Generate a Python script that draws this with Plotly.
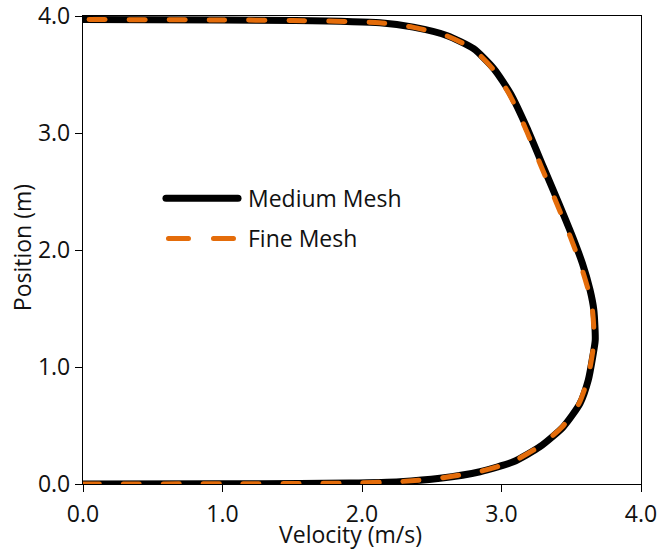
import plotly.graph_objects as go

# Velocity profile across the channel, ordered from the bottom wall to the top wall
medium_velocity = [0.0, 1.0, 1.556, 1.914, 2.272, 2.559, 2.846, 3.085, 3.276, 3.443,
                   3.563, 3.622, 3.654, 3.672, 3.662, 3.635, 3.580, 3.510, 3.410, 3.300,
                   3.180, 3.065, 2.945, 2.800, 2.607, 2.368, 2.129, 1.5, 1.0, 0.0]
medium_position = [0.0, 0.002, 0.004, 0.008, 0.020, 0.049, 0.105, 0.190, 0.319, 0.489,
                   0.689, 0.888, 1.087, 1.230, 1.486, 1.657, 1.885, 2.110, 2.400, 2.710,
                   3.050, 3.336, 3.550, 3.721, 3.834, 3.905, 3.943, 3.962, 3.966, 3.970]

fine_velocity = [0.0, 1.0, 1.550, 1.905, 2.262, 2.550, 2.838, 3.078, 3.268, 3.436,
                 3.556, 3.616, 3.648, 3.664, 3.652, 3.622, 3.564, 3.494, 3.395, 3.286,
                 3.168, 3.054, 2.936, 2.792, 2.600, 2.362, 2.124, 1.5, 1.0, 0.0]
fine_position = medium_position

series_names = ["Medium Mesh", "Fine Mesh"]
x_ticks = [0.0, 1.0, 2.0, 3.0, 4.0]
y_ticks = [0.0, 1.0, 2.0, 3.0, 4.0]
x_title = "Velocity (m/s)"
y_title = "Position (m)"

BLACK = "#000000"
ORANGE = "#E46C0A"
TEXT = "#111111"
FONT = "Open Sans"
SIZE = 23

fig = go.Figure()
fig.add_trace(go.Scatter(x=medium_velocity, y=medium_position, mode="lines",
                         name=series_names[0],
                         line=dict(color=BLACK, width=7, shape="spline", smoothing=0.6),
                         showlegend=False))
fig.add_trace(go.Scatter(x=fine_velocity, y=fine_position, mode="lines",
                         name=series_names[1],
                         line=dict(color=ORANGE, width=5, shape="spline", smoothing=0.6,
                                   dash="16px,24px"),
                         showlegend=False))

axis_common = dict(range=[0, 4], showline=True, linecolor=BLACK, linewidth=1.3, mirror=True,
                   ticks="outside", ticklen=7, tickwidth=1.3, tickcolor=BLACK,
                   showgrid=False, zeroline=False, tickformat=".1f", automargin=False,
                   ticklabeloverflow="allow",
                   tickfont=dict(family=FONT, size=SIZE, color=TEXT))

fig.update_xaxes(tickvals=x_ticks, ticklabelstandoff=2, **axis_common)
fig.update_yaxes(tickvals=y_ticks, ticklabelstandoff=0, **axis_common)

# Axis titles
fig.add_annotation(xref="paper", yref="paper", x=0.4785, y=-0.1078, text=x_title, showarrow=False,
                   xanchor="center", yanchor="middle",
                   font=dict(family=FONT, size=SIZE, color=TEXT))
fig.add_annotation(xref="paper", yref="paper", x=-0.1102, y=0.505, text=y_title, showarrow=False,
                   textangle=-90, xanchor="center", yanchor="middle",
                   font=dict(family=FONT, size=SIZE, color=TEXT))

# Legend drawn inside the plot area
legend_x0, legend_x1, text_x = 0.1487, 0.2778, 0.2916
legend_rows = [0.6107, 0.5247]
fig.add_shape(type="line", xref="paper", yref="paper", x0=legend_x0, x1=legend_x1,
              y0=legend_rows[0], y1=legend_rows[0], line=dict(color=BLACK, width=7))
fig.add_shape(type="line", xref="paper", yref="paper", x0=legend_x0 + 0.0045, x1=legend_x1 - 0.0045,
              y0=legend_rows[1], y1=legend_rows[1], line=dict(color=ORANGE, width=5, dash="20px,25px"))
for name, row in zip(series_names, legend_rows):
    fig.add_annotation(xref="paper", yref="paper", x=text_x, y=row, text=name, showarrow=False,
                       xanchor="left", yanchor="middle",
                       font=dict(family=FONT, size=SIZE, color=TEXT))

fig.update_layout(width=657, height=550, margin=dict(l=83, r=16, t=16, b=66),
                  paper_bgcolor="white", plot_bgcolor="white")

round_caps = """
var gd = document.querySelector('.plotly-graph-div');
function capLines() {
  gd.querySelectorAll('.scatterlayer path.js-line, .shapelayer path').forEach(function (p) {
    p.style.strokeLinecap = 'round';
  });
}
capLines();
gd.on('plotly_afterplot', capLines);
"""
fig.write_html("out.html", post_script=round_caps)
